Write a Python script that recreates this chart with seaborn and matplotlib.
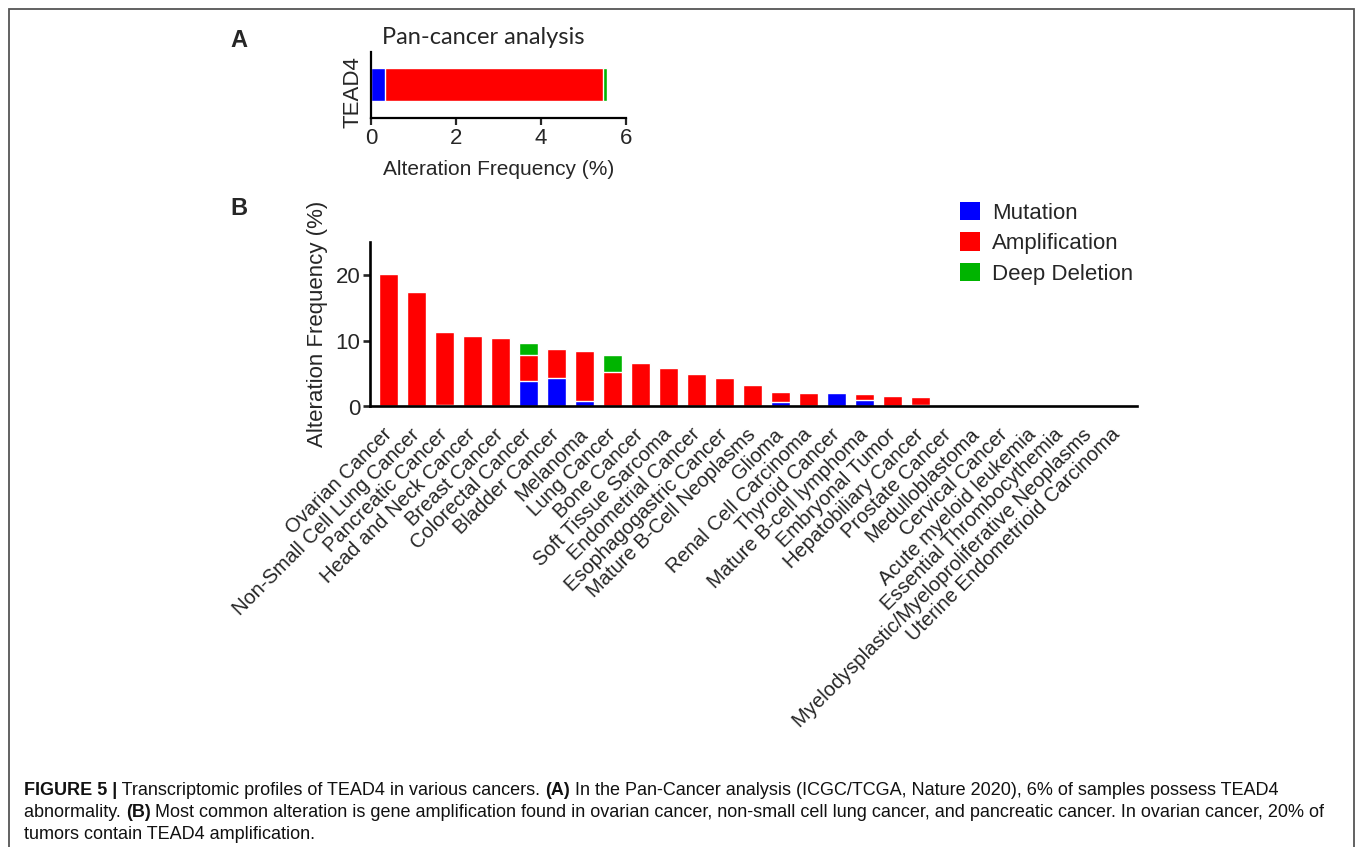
import matplotlib
matplotlib.use("Agg")
import matplotlib.pyplot as plt
from matplotlib.patches import Patch, Rectangle
import seaborn as sns
import pandas as pd

# panel A - pan-cancer TEAD4
pan_gene = ["TEAD4"]
pan_mutation = [0.34]
pan_amplification = [5.13]
pan_deletion = [0.08]

# panel B - by cancer type (segment heights, %)
cancers = [
    "Ovarian Cancer", "Non-Small Cell Lung Cancer", "Pancreatic Cancer",
    "Head and Neck Cancer", "Breast Cancer", "Colorectal Cancer",
    "Bladder Cancer", "Melanoma", "Lung Cancer", "Bone Cancer",
    "Soft Tissue Sarcoma", "Endometrial Cancer", "Esophagogastric Cancer",
    "Mature B-Cell Neoplasms", "Glioma", "Renal Cell Carcinoma",
    "Thyroid Cancer", "Mature B-cell lymphoma", "Embryonal Tumor",
    "Hepatobiliary Cancer", "Prostate Cancer", "Medulloblastoma",
    "Cervical Cancer", "Acute myeloid leukemia", "Essential Thrombocythemia",
    "Myelodysplastic/Myeloproliferative Neoplasms",
    "Uterine Endometrioid Carcinoma",
]
mutation = [0, 0, 0.25, 0, 0, 3.8, 4.3, 0.9, 0, 0, 0, 0, 0, 0, 0.7, 0,
            2.1, 1.0, 0, 0.2, 0, 0, 0, 0, 0, 0, 0]
amplification = [20.1, 17.45, 11.05, 10.75, 10.35, 4.0, 4.4, 7.55, 5.25, 6.55,
                 5.9, 4.95, 4.3, 3.3, 1.55, 2.1, 0, 0.9, 1.6, 1.2, 0, 0, 0, 0,
                 0, 0, 0]
deep_deletion = [0, 0, 0, 0, 0, 1.8, 0, 0, 2.6, 0, 0, 0, 0, 0, 0, 0, 0, 0, 0,
                 0, 0, 0, 0, 0, 0, 0, 0]

legend_labels = ["Mutation", "Amplification", "Deep Deletion"]
BLUE, RED, GREEN = "#0000FF", "#FF0000", "#00B400"

sns.set_style("white")
plt.rcParams["font.family"] = ["Liberation Sans", "DejaVu Sans"]

W, H = 1355, 847
fig = plt.figure(figsize=(W / 100, H / 100), dpi=100)


def fx(px):
    return px / W


def fy(py):
    return 1 - py / H


# ---------------- panel A ----------------
dfa = pd.DataFrame({"gene": pan_gene, "mut": pan_mutation,
                    "amp": pan_amplification, "dele": pan_deletion})
dfa["mut_amp"] = dfa["mut"] + dfa["amp"]
dfa["total"] = dfa["mut_amp"] + dfa["dele"]

axA = fig.add_axes([fx(371), fy(118), fx(255), 66 / H])
for col, c in [("total", GREEN), ("mut_amp", RED), ("mut", BLUE)]:
    sns.barplot(data=dfa, x=col, y="gene", orient="y", color=c,
                saturation=1, width=0.5, ax=axA)
axA.set_xlim(0, 6)
axA.set_ylim(0.5, -0.5)
axA.set_xticks([0, 2, 4, 6])
axA.set_yticks([])
axA.set_xlabel("Alteration Frequency (%)", fontsize=15, labelpad=8)
axA.set_ylabel("TEAD4", fontsize=16)
axA.yaxis.set_label_coords(-0.03, 0.4)
axA.set_title("Pan-cancer analysis", fontsize=17, family=["Lato", "DejaVu Sans"],
              x=0.44, pad=6)
for s in ["top", "right"]:
    axA.spines[s].set_visible(False)
for s in ["left", "bottom"]:
    axA.spines[s].set_linewidth(1.6)
    axA.spines[s].set_color("black")
axA.tick_params(axis="x", direction="out", length=5, width=1.6, labelsize=16,
                pad=2, bottom=True)

# ---------------- panel B ----------------
dfb = pd.DataFrame({"cancer": cancers, "mut": mutation,
                    "amp": amplification, "dele": deep_deletion})
dfb["mut_amp"] = dfb["mut"] + dfb["amp"]
dfb["total"] = dfb["mut_amp"] + dfb["dele"]

axB = fig.add_axes([fx(370), fy(406.5), fx(767), 164.5 / H])
for col, c in [("total", GREEN), ("mut_amp", RED), ("mut", BLUE)]:
    sns.barplot(data=dfb, x="cancer", y=col, color=c, saturation=1,
                width=0.68, ax=axB)
axB.set_xlim(-0.67, len(cancers) - 1 + 0.73)
axB.set_ylim(0, 25)
axB.set_yticks([0, 10, 20])
axB.set_xlabel("")
axB.set_ylabel("Alteration Frequency (%)", fontsize=16, labelpad=5)
for s in ["top", "right"]:
    axB.spines[s].set_visible(False)
for s in ["left", "bottom"]:
    axB.spines[s].set_linewidth(1.9)
    axB.spines[s].set_color("black")
axB.tick_params(axis="y", direction="out", length=5, width=1.9, labelsize=16,
                pad=2, left=True)
axB.tick_params(axis="x", length=0, labelsize=14.5, pad=18)
axB.set_xticks(range(len(cancers)))
axB.set_xticklabels(cancers, rotation=45, ha="right", va="center",
                    rotation_mode="anchor")

handles = [Patch(facecolor=c, edgecolor="none") for c in (BLUE, RED, GREEN)]
fig.legend(handles, legend_labels, loc="upper left",
           bbox_to_anchor=(fx(960), fy(202)), frameon=False, fontsize=16,
           handlelength=0.9, handleheight=0.9, handletextpad=0.55,
           labelspacing=0.38, borderpad=0, borderaxespad=0)

# panel letters
fig.text(fx(230), fy(47), "A", fontsize=17, fontweight="bold")
fig.text(fx(230), fy(215), "B", fontsize=17, fontweight="bold")

# frame around figure
fig.add_artist(Rectangle((fx(9), -0.05), fx(1345), fy(8.5) + 0.05,
                         transform=fig.transFigure, fill=False,
                         edgecolor="#555555", linewidth=1.3))

# caption
renderer = fig.canvas.get_renderer()
caption = [
    [("FIGURE 5 |", True), (" Transcriptomic profiles of TEAD4 in various cancers. ", False),
     ("(A)", True), (" In the Pan-Cancer analysis (ICGC/TCGA, Nature 2020), 6% of samples possess TEAD4", False)],
    [("abnormality. ", False), ("(B)", True),
     (" Most common alteration is gene amplification found in ovarian cancer, non-small cell lung cancer, and pancreatic cancer. In ovarian cancer, 20% of", False)],
    [("tumors contain TEAD4 amplification.", False)],
]
for i, line in enumerate(caption):
    x = fx(24)
    y = fy(795 + 22 * i)
    for txt, bold in line:
        t = fig.text(x, y, txt, fontsize=13, va="baseline",
                     fontweight="bold" if bold else "normal", color="#111111")
        bb = t.get_window_extent(renderer)
        x += bb.width / W

fig.savefig("out.png", dpi=100)
